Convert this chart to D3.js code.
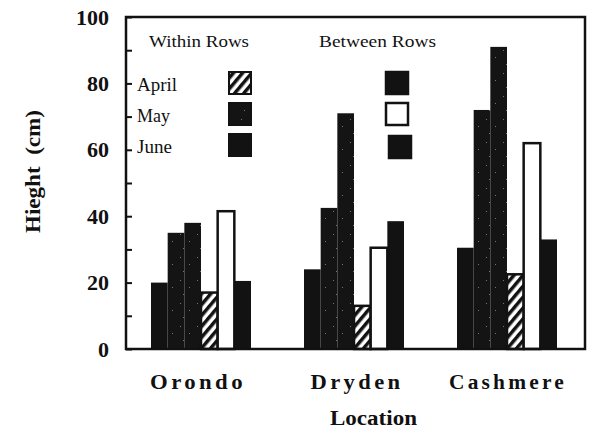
<!DOCTYPE html>
<html>
<head>
<meta charset="utf-8">
<script src="https://cdn.jsdelivr.net/npm/d3@7"></script>
<style>
  body { margin: 0; background: #fff; }
  svg { display: block; }
  text { font-family: "Liberation Serif", "DejaVu Serif", serif; fill: #111; }
</style>
</head>
<body>
<div id="chart"></div>
<script>
var w = 592;
var h = 441;

// data
var locations = ["Orondo", "Dryden", "Cashmere"];
// bar order inside each group, left to right
var seriesNames = ["betweenApril", "withinMay", "withinJune", "withinApril", "betweenMay", "betweenJune"];
var betweenApril = [20, 24, 30.5];
var withinMay = [35, 42.5, 72];
var withinJune = [38, 71, 91];
var withinApril = [17, 13, 22.5];
var betweenMay = [41.5, 30.5, 62];
var betweenJune = [20.5, 38.5, 33];
var yTicks = [0, 10, 20, 30, 40, 50, 60, 70, 80, 90, 100];
var legendMonths = ["April", "May", "June"];

var seriesValues = {
  betweenApril: betweenApril, withinMay: withinMay, withinJune: withinJune,
  withinApril: withinApril, betweenMay: betweenMay, betweenJune: betweenJune
};

var fills = {
  betweenApril: "#121212", withinMay: "url(#stipple)", withinJune: "url(#stipple)",
  withinApril: "url(#hatch)", betweenMay: "#fff", betweenJune: "#121212"
};

// plot frame
var padL = 126, padR = 585, padT = 17, padB = 349;

function main() {
  var svg = d3.select("#chart").append("svg")
    .attr("width", w)
    .attr("height", h);

  var defs = svg.append("defs");

  // hatch pattern for the April bars
  var hatch = defs.append("pattern")
    .attr("id", "hatch")
    .attr("patternUnits", "userSpaceOnUse")
    .attr("width", 7)
    .attr("height", 7)
    .attr("patternTransform", "rotate(40)");
  hatch.append("rect").attr("width", 7).attr("height", 7).attr("fill", "#fff");
  hatch.append("rect").attr("width", 3.5).attr("height", 7).attr("fill", "#121212");

  // dark stippled pattern, sparse grey specks
  var stip = defs.append("pattern")
    .attr("id", "stipple")
    .attr("patternUnits", "userSpaceOnUse")
    .attr("width", 17)
    .attr("height", 23);
  stip.append("rect").attr("width", 17).attr("height", 23).attr("fill", "#141414");
  [[3, 4], [12, 11], [6, 18]].forEach(function(p) {
    stip.append("rect").attr("x", p[0]).attr("y", p[1])
      .attr("width", 1).attr("height", 1).attr("fill", "#777");
  });

  var y = d3.scaleLinear().domain([0, 100]).range([padB, padT]);

  var x0 = d3.scaleBand().domain(locations).range([padL, padR]);
  var x1 = d3.scaleBand().domain(seriesNames).range([25, 125]);

  // bars
  var groups = svg.selectAll(".group")
    .data(locations)
    .enter()
    .append("g")
    .attr("class", "group")
    .attr("transform", function(d) { return "translate(" + x0(d) + ",0)"; });

  groups.selectAll("rect")
    .data(function(d, i) {
      return seriesNames.map(function(s) { return { key: s, value: seriesValues[s][i] }; });
    })
    .enter()
    .append("rect")
    .attr("x", function(d) { return x1(d.key); })
    .attr("y", function(d) { return y(d.value); })
    .attr("width", x1.bandwidth())
    .attr("height", function(d) { return padB - y(d.value); })
    .attr("fill", function(d) { return fills[d.key]; })
    .attr("stroke", function(d) { return d.key === "betweenMay" || d.key === "withinApril" ? "#121212" : "none"; })
    .attr("stroke-width", 2.5);

  // y axis with inward ticks
  var yAxis = d3.axisLeft(y)
    .tickValues(yTicks)
    .tickSizeInner(-6)
    .tickSizeOuter(0)
    .tickPadding(17)
    .tickFormat(function(d) { return d % 20 === 0 ? d : ""; });

  var ya = svg.append("g")
    .attr("transform", "translate(" + padL + ",0)")
    .call(yAxis);
  ya.select(".domain").remove();
  ya.selectAll(".tick line").attr("stroke", "#111").attr("stroke-width", 2);
  ya.selectAll("text")
    .style("font-size", "22px")
    .style("font-weight", "bold")
    .style("font-family", "'Liberation Serif', serif")
    .attr("fill", "#111");

  // frame
  svg.append("rect")
    .attr("x", padL)
    .attr("y", padT)
    .attr("width", padR - padL)
    .attr("height", padB - padT)
    .attr("fill", "none")
    .attr("stroke", "#111")
    .attr("stroke-width", 2.5);

  // category labels
  var labelX = { Orondo: 198, Dryden: 357, Cashmere: 508 };
  var labelW = { Orondo: 96, Dryden: 93, Cashmere: 118 };
  svg.selectAll(".cat")
    .data(locations)
    .enter()
    .append("text")
    .attr("class", "cat")
    .attr("x", function(d) { return labelX[d] - labelW[d] / 2; })
    .attr("y", 389)
    .attr("textLength", function(d) { return labelW[d]; })
    .attr("lengthAdjust", "spacingAndGlyphs")
    .style("letter-spacing", "3px")
    .style("font-size", "20px")
    .style("font-weight", "bold")
    .text(function(d) { return d; });

  // axis titles
  svg.append("text")
    .attr("x", 330)
    .attr("y", 425)
    .attr("textLength", 87)
    .attr("lengthAdjust", "spacingAndGlyphs")
    .style("font-size", "20px")
    .style("font-weight", "bold")
    .text("Location");

  svg.append("text")
    .attr("transform", "translate(40,233) rotate(-90)")
    .attr("textLength", 123)
    .attr("lengthAdjust", "spacingAndGlyphs")
    .style("white-space", "pre")
    .style("font-size", "20px")
    .style("font-weight", "bold")
    .text("Hieght  (cm)");

  // legend
  svg.append("text")
    .attr("x", 149).attr("y", 47)
    .attr("textLength", 100).attr("lengthAdjust", "spacingAndGlyphs")
    .style("font-size", "17px")
    .text("Within Rows");

  svg.append("text")
    .attr("x", 319).attr("y", 47)
    .attr("textLength", 117).attr("lengthAdjust", "spacingAndGlyphs")
    .style("font-size", "17px")
    .text("Between Rows");

  var rowY = [72, 103, 134];
  var monthW = [40, 33, 35];

  svg.selectAll(".month")
    .data(legendMonths)
    .enter()
    .append("text")
    .attr("class", "month")
    .attr("x", 137)
    .attr("y", function(d, i) { return rowY[i] + 19; })
    .attr("textLength", function(d, i) { return monthW[i]; })
    .attr("lengthAdjust", "spacingAndGlyphs")
    .style("font-size", "18px")
    .text(function(d) { return d; });

  var withinKeys = ["withinApril", "withinMay", "withinJune"];
  var betweenKeys = ["betweenApril", "betweenMay", "betweenJune"];

  svg.selectAll(".sw-within")
    .data(withinKeys)
    .enter()
    .append("rect")
    .attr("class", "sw-within")
    .attr("x", 229)
    .attr("y", function(d, i) { return rowY[i]; })
    .attr("width", 22)
    .attr("height", 22)
    .attr("fill", function(d) { return d === "withinJune" ? "#121212" : fills[d]; })
    .attr("stroke", "#121212")
    .attr("stroke-width", 2);

  svg.selectAll(".sw-between")
    .data(betweenKeys)
    .enter()
    .append("rect")
    .attr("class", "sw-between")
    .attr("x", function(d, i) { return i === 2 ? 389 : 386; })
    .attr("y", function(d, i) { return rowY[i] + (i === 2 ? 2 : 0); })
    .attr("width", 22)
    .attr("height", 22)
    .attr("fill", function(d) { return fills[d]; })
    .attr("stroke", "#121212")
    .attr("stroke-width", 2.5);
}

window.onload = function() {
  main();
};
</script>
</body>
</html>
